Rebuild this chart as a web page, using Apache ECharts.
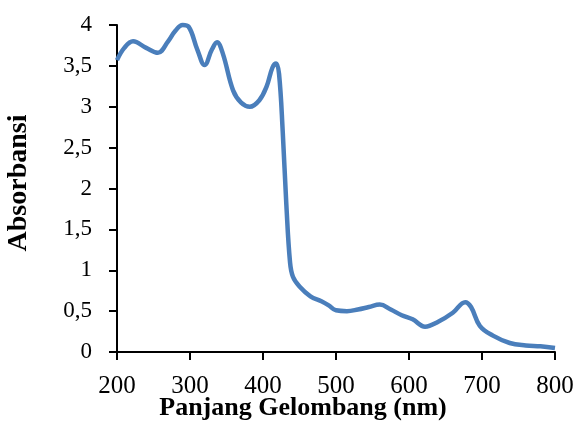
<!DOCTYPE html>
<html><head><meta charset="utf-8">
<script src="https://cdn.jsdelivr.net/npm/echarts@6/dist/echarts.min.js"></script>
<style>html,body{margin:0;padding:0;background:#fff}#c{width:579px;height:430px}</style>
</head><body><div id="c"></div>
<script>
const wavelength = [200,210,222,240,256,270,280,290,298,310,320,330,337,345,359,370,382,395,405,413,418,422,427,432,437,441,450,465,480,490,500,515,530,545,560,575,590,605,622,640,660,677,685,697,715,738,760,780,800];
const absorbance = [3.57,3.72,3.80,3.72,3.66,3.80,3.93,4.00,3.98,3.70,3.51,3.70,3.79,3.65,3.20,3.05,3.00,3.08,3.25,3.48,3.53,3.40,2.70,1.80,1.10,0.92,0.80,0.68,0.62,0.57,0.51,0.50,0.52,0.55,0.58,0.52,0.45,0.40,0.31,0.37,0.48,0.61,0.55,0.32,0.20,0.11,0.08,0.07,0.05];
const xTitle = 'Panjang Gelombang (nm)';
const yTitle = 'Absorbansi';
const font = '"Liberation Serif", "Times New Roman", serif';
const chart = echarts.init(document.getElementById('c'));
chart.setOption({
  animation: false,
  grid: {left: 117, right: 24, top: 25, bottom: 78},
  xAxis: {
    type: 'value', min: 200, max: 800, interval: 100,
    axisLine: {lineStyle: {color: '#000', width: 2}},
    axisTick: {show: true, length: 8, lineStyle: {color: '#000', width: 2}},
    splitLine: {show: false},
    axisLabel: {color: '#000', fontFamily: font, fontSize: 25, margin: 22}
  },
  yAxis: {
    type: 'value', min: 0, max: 4, interval: 0.5,
    axisLine: {show: true, lineStyle: {color: '#000', width: 2}},
    axisTick: {show: true, length: 8, lineStyle: {color: '#000', width: 2}},
    splitLine: {show: false},
    axisLabel: {color: '#000', fontFamily: font, fontSize: 23, margin: 25,
      formatter: v => String(v).replace('.', ',')}
  },
  graphic: [
    {type: 'text', x: 303, y: 408, style: {text: xTitle, fill: '#000', font: 'bold 26px ' + font, textAlign: 'center', textVerticalAlign: 'middle'}},
    {type: 'text', x: 19, y: 183, rotation: Math.PI / 2, style: {text: yTitle, fill: '#000', font: 'bold 28px ' + font, textAlign: 'center', textVerticalAlign: 'middle'}}
  ],
  series: [{
    type: 'line', smooth: 0.4, showSymbol: false, clip: false,
    data: wavelength.map((x, i) => [x, absorbance[i]]),
    lineStyle: {color: '#4a7ebb', width: 4.5}
  }]
});
</script></body></html>
